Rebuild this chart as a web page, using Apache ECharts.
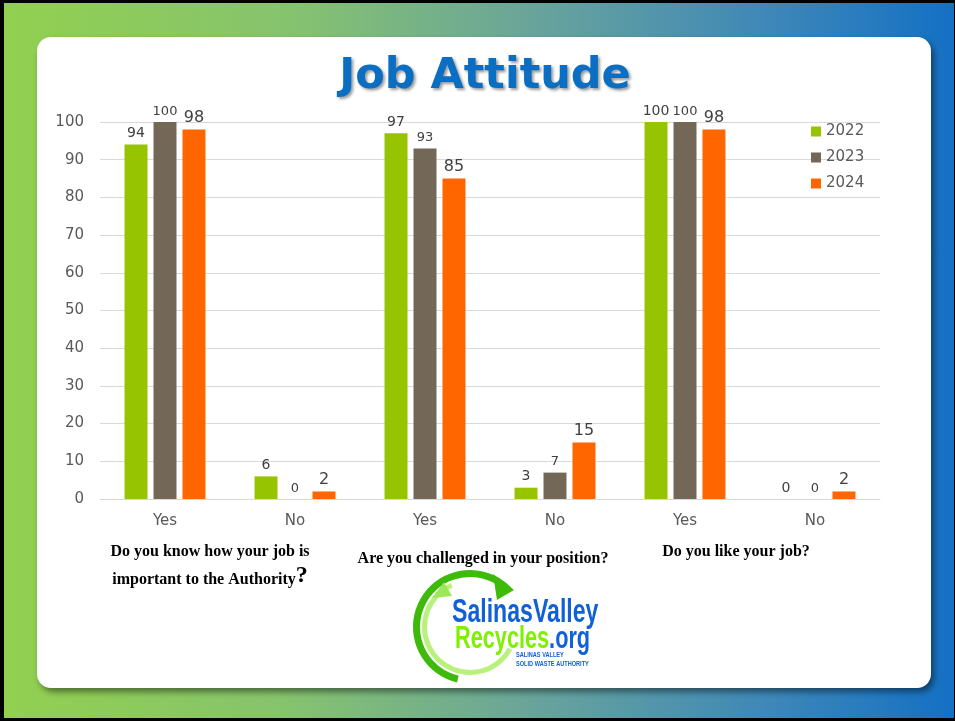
<!DOCTYPE html>
<html>
<head>
<meta charset="utf-8">
<script src="https://cdn.jsdelivr.net/npm/echarts@6/dist/echarts.min.js"></script>
<style>
html,body{margin:0;padding:0;width:955px;height:721px;overflow:hidden;}
#bg{position:absolute;left:0;top:0;width:955px;height:721px;box-sizing:border-box;
 border-top:3px solid #000;border-left:4px solid #000;border-bottom:3px solid #000;border-right:1px solid #000;
 background:linear-gradient(to right,#92D050 0%,#86C36E 30%,#6AA59A 55%,#3F88B8 80%,#1470C4 100%);}
#panel{position:absolute;left:37px;top:37px;width:894px;height:651px;background:#fff;border-radius:14px;
 box-shadow:3px 4px 6px rgba(0,0,0,0.45);}
#chart{position:absolute;left:0;top:0;width:955px;height:721px;}
</style>
</head>
<body>
<div id="bg"></div>
<div id="panel"></div>
<div id="chart"></div>
<script>
const categories = ['Yes','No','Yes','No','Yes','No'];
const seriesNames = ['2022','2023','2024'];
const values2022 = [94, 6, 97, 3, 100, 0];
const values2023 = [100, 0, 93, 7, 100, 0];
const values2024 = [98, 2, 85, 15, 98, 2];
const yTicks = [0,10,20,30,40,50,60,70,80,90,100];
const titleText = 'Job Attitude';
const questions = ['Do you know how your job is', 'important to the Authority', 'Are you challenged in your position?', 'Do you like your job?'];
const colors = ['#97C400', '#736858', '#FF6600'];

const chart = echarts.init(document.getElementById('chart'), null, {renderer:'canvas'});

function barSeries(name, data, color, fs){
  return {
    name: name, type: 'bar', data: data, barWidth: 23, barGap: '26%',
    itemStyle: {color: color},
    label: {show: true, position: 'top', distance: 4, color: '#404040', fontSize: fs, fontFamily: 'DejaVu Sans'}
  };
}

const qFont = 'bold 16px "Liberation Serif"';

const option = {
  backgroundColor: 'transparent',
  animation: false,
  legend: {
    orient: 'vertical', left: 806, top: 119, itemWidth: 10, itemHeight: 10, itemGap: 11,
    icon: 'rect', data: seriesNames,
    textStyle: {fontFamily: 'DejaVu Sans', fontSize: 15, color: '#595959'}
  },
  grid: {left: 100, right: 75, top: 122, bottom: 222},
  xAxis: {
    type: 'category', data: categories,
    axisLine: {lineStyle: {color: '#D9D9D9'}}, axisTick: {show: false},
    axisLabel: {margin: 15, fontFamily: 'DejaVu Sans', fontSize: 15, color: '#595959'}
  },
  yAxis: {
    type: 'value', min: yTicks[0], max: yTicks[yTicks.length-1], interval: 10,
    axisLine: {show: false}, axisTick: {show: false},
    splitLine: {lineStyle: {color: '#D9D9D9'}},
    axisLabel: {margin: 16, fontFamily: 'DejaVu Sans', fontSize: 15, color: '#595959'}
  },
  series: [
    barSeries(seriesNames[0], values2022, colors[0], 14),
    barSeries(seriesNames[1], values2023, colors[1], 13),
    barSeries(seriesNames[2], values2024, colors[2], 16)
  ],
  graphic: [
    {type:'text', x: 485, y: 77, scaleX: 1.0,
      style:{text: titleText, font: 'bold 43px "DejaVu Sans"', fill: '#0A6FC2', align:'center', verticalAlign:'middle',
        textShadowColor:'rgba(0,0,0,0.4)', textShadowOffsetX:2, textShadowOffsetY:2, textShadowBlur:3,
        shadowColor:'rgba(0,0,0,0.4)', shadowOffsetX:2, shadowOffsetY:2, shadowBlur:3}},
    {type:'text', x: 210, y: 552, style:{text: questions[0], font: qFont, fill:'#000', align:'center', verticalAlign:'middle'}},
    {type:'text', x: 210, y: 576, style:{text: '{a|' + questions[1] + '}{b|?}', align:'center', verticalAlign:'middle',
      rich:{a:{font: qFont, fill:'#000', verticalAlign:'bottom'},
            b:{font:'bold 24px "Liberation Serif"', fill:'#000', verticalAlign:'bottom'}}}},
    {type:'text', x: 483, y: 559, style:{text: questions[2], font: qFont, fill:'#000', align:'center', verticalAlign:'middle'}},
    {type:'text', x: 736, y: 552, style:{text: questions[3], font: qFont, fill:'#000', align:'center', verticalAlign:'middle'}},
    // logo arcs
    {type:'sector', shape:{cx:470, cy:627, r:57, r0:50, startAngle:1.8, endAngle:5.55, clockwise:true},
      style:{fill:'#3DBA0A'}},
    {type:'polygon', shape:{points:[[493,574],[514,590],[497,600]]}, style:{fill:'#3DBA0A'}},
    {type:'sector', shape:{cx:470, cy:627, r:48, r0:43, startAngle:0.5, endAngle:4.3, clockwise:true},
      style:{fill:'#B8F27C'}},
    {type:'polygon', shape:{points:[[444,582],[432,598],[452,596]]}, style:{fill:'#9BE85A'}},
    {type:'text', left: 452, top: 596, scaleX: 0.7,
      style:{text:'SalinasValley', font:'bold 33px "Liberation Sans"', fill:'#1160D8'}},
    {type:'text', left: 455, top: 624, scaleX: 0.7,
      style:{text:'{g|Recycles}{b|.org}', rich:{
        g:{font:'bold 31px "Liberation Sans"', fill:'#7EF000'},
        b:{font:'bold 31px "Liberation Sans"', fill:'#1160D8'}}}},
    {type:'text', left: 516, top: 652, scaleX: 0.8,
      style:{text:'SALINAS VALLEY', font:'bold 7px "Liberation Sans"', fill:'#1160D8'}},
    {type:'text', left: 516, top: 661, scaleX: 0.8,
      style:{text:'SOLID WASTE AUTHORITY', font:'bold 7px "Liberation Sans"', fill:'#1160D8'}}
  ]
};
chart.setOption(option);
</script>
</body>
</html>
